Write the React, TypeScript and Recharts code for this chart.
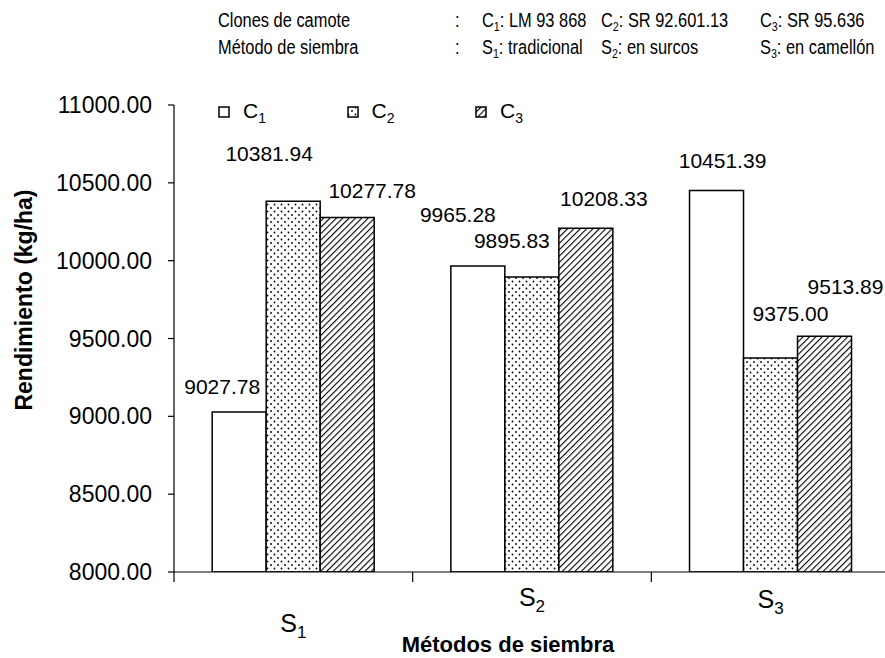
import { BarChart, Bar, XAxis, YAxis, Legend, LabelList } from 'recharts'

const METODOS = ['S1', 'S2', 'S3']
const C1 = [9027.78, 9965.28, 10451.39]
const C2 = [10381.94, 9895.83, 9375.0]
const C3 = [10277.78, 10208.33, 9513.89]
const Y_TICKS = [8000, 8500, 9000, 9500, 10000, 10500, 11000]

const data = METODOS.map((m, i) => ({ metodo: m, c1: C1[i], c2: C2[i], c3: C3[i] }))

const FONT = '"Liberation Sans", Arial, sans-serif'

// hand-placed value labels, offset from the bar's top centre (dx, baseline dy)
const LABEL_POS: Record<string, [number, number][]> = {
  c1: [[-17, -18], [-20, -44], [6, -22]],
  c2: [[-24, -40], [-20, -29], [20, -37]],
  c3: [[25, -19], [18, -22], [21, -42]],
}

// the S labels don't sit on one line in the original
const TICK_DY = [60, 34, 36]

const SERIES = [
  { key: 'c1', name: 'C1', fill: '#ffffff' },
  { key: 'c2', name: 'C2', fill: 'url(#dots)' },
  { key: 'c3', name: 'C3', fill: 'url(#hatch)' },
]

function Sub({ text, size }: { text: string; size: number }) {
  return (
    <>
      <tspan>{text.slice(0, 1)}</tspan>
      <tspan fontSize={size * 0.68} dy={size * 0.22}>{text.slice(1)}</tspan>
    </>
  )
}

function MetodoTick(props: any) {
  const { x, y, payload, index } = props
  const half = payload.offset ?? 0
  return (
    <g>
      <line x1={x - half} x2={x - half} y1={y} y2={y + 10} stroke="#000" strokeWidth={1.2} />
      <text x={x} y={y + TICK_DY[index]} textAnchor="middle" fontSize={25} fontFamily={FONT} fill="#000">
        <Sub text={payload.value} size={25} />
      </text>
    </g>
  )
}

function valueLabel(key: string) {
  return (props: any) => {
    const { x, y, width, value, index } = props
    const [dx, dy] = LABEL_POS[key][index]
    return (
      <text x={x + width / 2 + dx} y={y + dy} textAnchor="middle" fontSize={21} fontFamily={FONT} fill="#000">
        {Number(value).toFixed(2)}
      </text>
    )
  }
}

function LegendContent() {
  return (
    <div style={{ position: 'relative', height: 24, fontFamily: FONT }}>
      {SERIES.map((s, i) => (
        <div key={s.key} style={{ position: 'absolute', left: 218 + i * 128.5, top: 0, display: 'flex', alignItems: 'center' }}>
          <svg width={12} height={12} style={{ display: 'block' }}>
            <rect x={1} y={1} width={10} height={10} fill={s.fill} stroke="#000" strokeWidth={1.5} />
          </svg>
          <span style={{ marginLeft: 13, fontSize: 21, color: '#000', lineHeight: '24px' }}>
            {s.name.slice(0, 1)}
            <span style={{ fontSize: 14, position: 'relative', top: 5 }}>{s.name.slice(1)}</span>
          </span>
        </div>
      ))}
    </div>
  )
}

function HeaderSub({ text }: { text: string }) {
  return (
    <>
      {text.slice(0, 1)}
      <span style={{ fontSize: '0.65em', position: 'relative', top: 4 }}>{text.slice(1, 2)}</span>
      {text.slice(2)}
    </>
  )
}

const HEADER_ROWS = [
  ['Clones de camote', 'C1: LM 93 868', 'C2: SR 92.601.13', 'C3: SR 95.636'],
  ['Método de siembra', 'S1: tradicional', 'S2: en surcos', 'S3: en camellón'],
]
const HEADER_X = [218, 482, 601, 760]

const narrowSpan = (left: number): React.CSSProperties => ({
  position: 'absolute',
  left,
  display: 'inline-block',
  transform: 'scaleX(0.82)',
  transformOrigin: 'left center',
})

export default function App() {
  return (
    <div style={{ position: 'absolute', left: 0, top: 0, width: 885, height: 658, overflow: 'hidden', background: '#fff' }}>
      {HEADER_ROWS.map((row, r) => (
        <div key={r} style={{ position: 'absolute', top: 8 + r * 27, left: 0, width: 885, fontFamily: FONT, fontSize: 20, color: '#000', whiteSpace: 'nowrap', lineHeight: '24px' }}>
          <span style={narrowSpan(HEADER_X[0])}>{row[0]}</span>
          <span style={narrowSpan(455)}>:</span>
          {row.slice(1).map((t, i) => (
            <span key={i} style={narrowSpan(HEADER_X[i + 1])}>
              <HeaderSub text={t} />
            </span>
          ))}
        </div>
      ))}
      <div style={{ position: 'absolute', left: 0, top: 0 }}>
        <BarChart
          width={900}
          height={658}
          data={data}
          margin={{ top: 105, right: 10, bottom: 0, left: 0 }}
          barCategoryGap="16%"
          barGap={0}
        >
          <defs>
            <pattern id="dots" width={7} height={7} patternUnits="userSpaceOnUse">
              <rect width={7} height={7} fill="#fff" />
              <circle cx={1.5} cy={1.5} r={0.9} fill="#000" />
              <circle cx={5} cy={5} r={0.9} fill="#000" />
            </pattern>
            <pattern id="hatch" width={4.5} height={4.5} patternUnits="userSpaceOnUse" patternTransform="rotate(45)">
              <rect width={4.5} height={4.5} fill="#fff" />
              <line x1={0} y1={0} x2={0} y2={4.5} stroke="#000" strokeWidth={2.2} />
            </pattern>
          </defs>
          <XAxis
            dataKey="metodo"
            height={86}
            axisLine={{ stroke: '#000', strokeWidth: 1.2 }}
            tickLine={false}
            tickSize={0}
            tickMargin={0}
            tick={<MetodoTick />}
            interval={0}
            label={(p: any) => (
              <text x={p.viewBox.x + p.viewBox.width / 2 - 24} y={p.viewBox.y + 80} textAnchor="middle" fontSize={22} fontWeight="bold" fontFamily={FONT} fill="#000">
                Métodos de siembra
              </text>
            )}
          />
          <YAxis
            width={174}
            domain={[8000, 11000]}
            ticks={Y_TICKS}
            interval={0}
            allowDataOverflow
            tickFormatter={(v: number) => v.toFixed(2)}
            axisLine={{ stroke: '#000', strokeWidth: 1.2 }}
            tickLine={{ stroke: '#000', strokeWidth: 1.2 }}
            tickSize={6}
            tickMargin={16}
            tick={{ fill: '#000', fontSize: 23, fontFamily: FONT }}
            label={() => (
              <text
                x={24}
                y={300}
                transform="rotate(-90 24 300)"
                textAnchor="middle"
                dominantBaseline="central"
                fontSize={23}
                fontWeight="bold"
                fontFamily={FONT}
                fill="#000"
              >
                Rendimiento (kg/ha)
              </text>
            )}
          />
          <Legend
            verticalAlign="middle"
            align="center"
            layout="horizontal"
            wrapperStyle={{ left: 0, top: 99, width: 700 }}
            content={<LegendContent />}
          />
          {SERIES.map((s) => (
            <Bar key={s.key} dataKey={s.key} name={s.name} fill={s.fill} stroke="#000" strokeWidth={1.5} isAnimationActive={false}>
              <LabelList dataKey={s.key} content={valueLabel(s.key)} />
            </Bar>
          ))}
        </BarChart>
      </div>
    </div>
  )
}
